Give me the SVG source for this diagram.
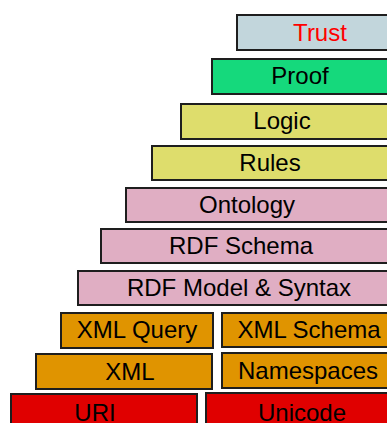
<svg xmlns="http://www.w3.org/2000/svg" width="387" height="423" viewBox="0 0 387 423">
<style>
rect{stroke:#1e1e1e;stroke-width:2}
text{font-family:"Liberation Sans",Arial,sans-serif;font-size:24px;text-anchor:middle;fill:#000}
.trust{fill:#c2d6dc}.proof{fill:#15d97c}.yel{fill:#dedd6c}.pink{fill:#e0aec3}.org{fill:#e09400}.red{fill:#e00000}
</style>
<rect width="387" height="423" fill="#fff" style="stroke:none"/>
<g id="trust"><rect class="trust" x="237" y="15" width="160" height="35"/><text x="320" y="41" style="fill:#ff0000">Trust</text></g>
<g id="proof"><rect class="proof" x="212" y="59" width="185" height="35"/><text x="300" y="84">Proof</text></g>
<g id="logic"><rect class="yel" x="181" y="104" width="216" height="35"/><text x="282" y="129">Logic</text></g>
<g id="rules"><rect class="yel" x="152" y="146" width="245" height="34"/><text x="270" y="171">Rules</text></g>
<g id="ontology"><rect class="pink" x="126" y="188" width="271" height="34"/><text x="247" y="213">Ontology</text></g>
<g id="rdfschema"><rect class="pink" x="101" y="229" width="296" height="34"/><text x="241" y="254">RDF Schema</text></g>
<g id="rdfmodel"><rect class="pink" x="78" y="271" width="319" height="34"/><text x="239" y="296">RDF Model &amp; Syntax</text></g>
<g id="xmlquery"><rect class="org" x="61" y="313" width="152" height="35"/><text x="137" y="338">XML Query</text></g>
<g id="xmlschema"><rect class="org" x="222" y="313" width="175" height="34"/><text x="309" y="338">XML Schema</text></g>
<g id="xml"><rect class="org" x="36" y="354" width="176" height="35"/><text x="130" y="380">XML</text></g>
<g id="namespaces"><rect class="org" x="222" y="353" width="175" height="35"/><text x="308" y="379">Namespaces</text></g>
<g id="uri"><rect class="red" x="11" y="394" width="186" height="40"/><text x="95" y="421">URI</text></g>
<g id="unicode"><rect class="red" x="206" y="393" width="191" height="40"/><text x="302" y="421">Unicode</text></g>
<g id="connectors"></g>
</svg>
